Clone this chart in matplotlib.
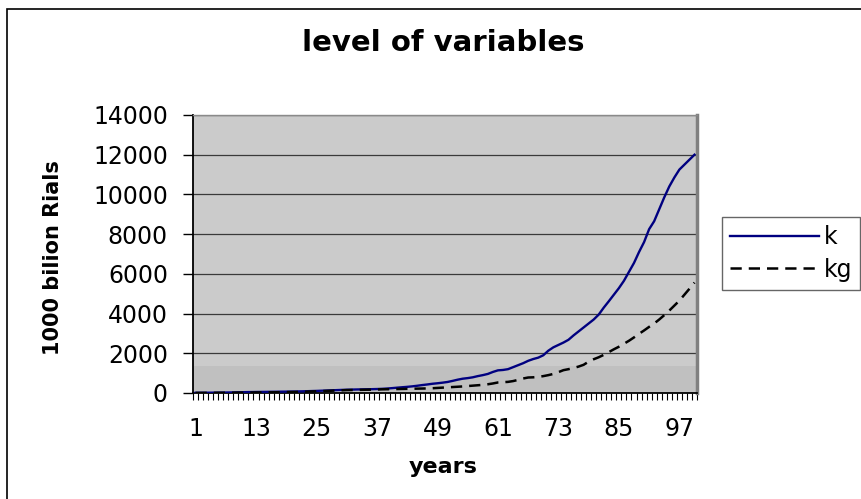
import matplotlib
matplotlib.use("Agg")
import matplotlib.pyplot as plt
from matplotlib.patches import Rectangle
from matplotlib.ticker import FixedLocator

years = list(range(1, 101))

k = [10, 12, 14, 16, 18, 21, 24, 28, 32, 38,
     44, 48, 52, 55, 58, 61, 64, 67, 70, 74,
     78, 83, 90, 98, 105, 115, 125, 135, 145, 155,
     165, 172, 178, 183, 188, 193, 200, 210, 225, 245,
     268, 290, 310, 335, 365, 400, 430, 465, 490, 520,
     555, 610, 670, 720, 750, 790, 850, 900, 960, 1060,
     1140, 1160, 1200, 1300, 1400, 1500, 1620, 1710, 1780, 1900,
     2130, 2300, 2420, 2540, 2680, 2900, 3100, 3300, 3500, 3700,
     3950, 4300, 4620, 4950, 5280, 5650, 6100, 6550, 7100, 7600,
     8250, 8650, 9250, 9850, 10400, 10850, 11250, 11500, 11750, 12000]

kg = [5, 6, 7, 8, 9, 10, 12, 14, 16, 18,
      20, 22, 25, 28, 31, 34, 37, 40, 44, 48,
      52, 58, 65, 75, 85, 95, 105, 115, 125, 135,
      145, 150, 155, 160, 165, 170, 178, 185, 190, 195,
      200, 205, 210, 215, 220, 225, 230, 240, 255, 270,
      285, 300, 315, 330, 350, 370, 390, 410, 440, 480,
      530, 545, 560, 600, 660, 730, 780, 790, 810, 850,
      900, 960, 1050, 1150, 1200, 1260, 1330, 1420, 1580, 1700,
      1800, 1920, 2060, 2200, 2330, 2480, 2630, 2800, 2980, 3150,
      3330, 3500, 3700, 3920, 4150, 4400, 4650, 4950, 5250, 5560]

series_names = ["k", "kg"]
x_tick_labels = [str(v) for v in range(1, 101, 12)]
y_ticks = list(range(0, 14001, 2000))

title = "level of variables"
xlabel = "years"
ylabel = "1000 bilion Rials"

fig = plt.figure(figsize=(8.62, 4.99), dpi=100)
fig.patch.set_facecolor("white")

# outer chart border (left and top visible)
fig.add_artist(Rectangle((7 / 862, -0.05), 1.2, 1 - 9 / 499 + 0.05,
                         transform=fig.transFigure, fill=False,
                         edgecolor="black", linewidth=1.2))

ax = fig.add_axes([193 / 862, 1 - 393 / 499, (697 - 193) / 862, (393 - 115) / 499])
ax.set_facecolor("#CBCBCB")
ax.add_patch(Rectangle((0, 0), 1, 0.097, transform=ax.transAxes,
                       facecolor="#C0C0C0", edgecolor="none", zorder=0))

ax.plot(years, k, color="#000080", linewidth=1.7, label=series_names[0], zorder=3)
ax.plot(years, kg, color="black", linewidth=1.8, dashes=(4.5, 2.8),
        label=series_names[1], zorder=3)

ax.set_xlim(0.5, 100.5)
ax.set_ylim(0, 14000)

ax.set_yticks(y_ticks)
ax.set_yticklabels([str(v) for v in y_ticks], fontsize=17)
ax.yaxis.grid(True, color="#3a3a3a", linewidth=0.9)
ax.set_axisbelow(True)
ax.tick_params(axis="y", direction="out", length=7, width=1, pad=11, colors="black")

major_x = list(range(1, 101, 12))
ax.set_xticks(major_x)
ax.set_xticklabels(x_tick_labels, fontsize=17)
ax.xaxis.set_minor_locator(FixedLocator([v + 0.5 for v in range(0, 101)]))
ax.tick_params(axis="x", which="major", length=0, pad=17)
ax.tick_params(axis="x", which="minor", direction="out", length=5, width=0.8, color="black")

for side in ["left", "bottom"]:
    ax.spines[side].set_color("black")
    ax.spines[side].set_linewidth(1.3)
ax.spines["top"].set_color("#8a8a8a")
ax.spines["top"].set_linewidth(1.0)
ax.spines["right"].set_color("#808080")
ax.spines["right"].set_linewidth(2.5)

fig.text(443 / 862, 1 - 43 / 499, title, fontsize=21, fontweight="bold",
         ha="center", va="center")
fig.text(443 / 862, 1 - 467 / 499, xlabel, fontsize=16, fontweight="bold",
         ha="center", va="center")
fig.text(53 / 862, 1 - 258 / 499, ylabel, fontsize=15, fontweight="bold",
         ha="center", va="center", rotation=90)

leg = fig.legend(loc="upper left", bbox_to_anchor=(722 / 862, 1 - 217 / 499),
                 fontsize=17, frameon=True, fancybox=False, handlelength=3.75,
                 handletextpad=0.2, borderpad=0.35, labelspacing=0.35,
                 borderaxespad=0)
leg.get_frame().set_edgecolor("#404040")
leg.get_frame().set_linewidth(1.0)

fig.savefig("out.png", dpi=100, facecolor="white")
